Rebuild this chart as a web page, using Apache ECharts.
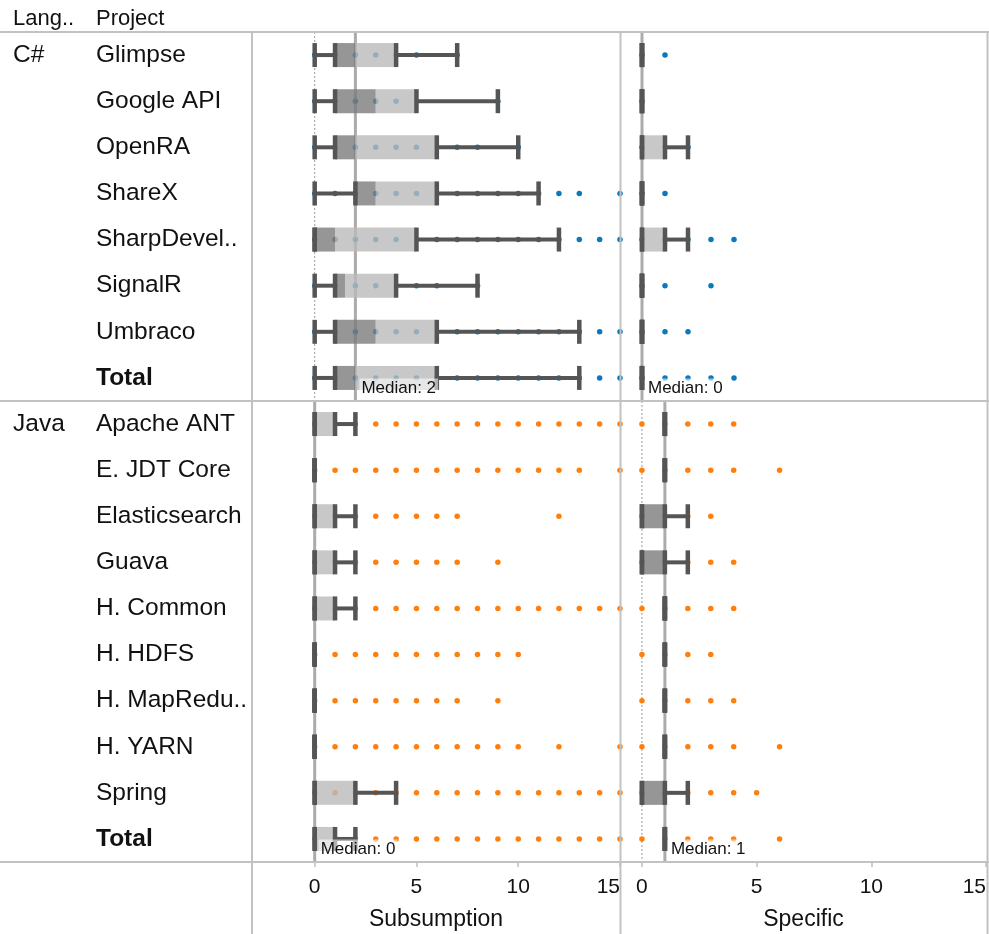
<!DOCTYPE html>
<html>
<head>
    <meta charset="utf-8">
    <title>Subsumption / Specific</title>
    <script src="https://cdn.jsdelivr.net/npm/echarts@6/dist/echarts.min.js"></script>
    <style>
        body { margin: 0; background: #fff; }
    </style>
</head>
<body>
<div id="main" style="width: 989px;height:934px;"></div>
<script type="text/javascript">
    // rows
    var csProjects = ['Glimpse', 'Google API', 'OpenRA', 'ShareX', 'SharpDevel..', 'SignalR', 'Umbraco', 'Total'];
    var javaProjects = ['Apache ANT', 'E. JDT Core', 'Elasticsearch', 'Guava', 'H. Common', 'H. HDFS',
        'H. MapRedu..', 'H. YARN', 'Spring', 'Total'];
    var tickValues = [0, 5, 10, 15];

    // box stats: [lower whisker, q1, median, q3, upper whisker]
    var csSubsBox = [[0, 1, 2, 4, 7], [0, 1, 3, 5, 9], [0, 1, 2, 6, 10], [0, 2, 3, 6, 11],
        [0, 0, 1, 5, 12], [0, 1, 1.5, 4, 8], [0, 1, 3, 6, 13], [0, 1, 2, 6, 13]];
    var csSpecBox = [[0, 0, 0, 0, 0], [0, 0, 0, 0, 0], [0, 0, 0, 1, 2], [0, 0, 0, 0, 0],
        [0, 0, 0, 1, 2], [0, 0, 0, 0, 0], [0, 0, 0, 0, 0], [0, 0, 0, 0, 0]];
    var javaSubsBox = [[0, 0, 0, 1, 2], [0, 0, 0, 0, 0], [0, 0, 0, 1, 2], [0, 0, 0, 1, 2], [0, 0, 0, 1, 2],
        [0, 0, 0, 0, 0], [0, 0, 0, 0, 0], [0, 0, 0, 0, 0], [0, 0, 0, 2, 4], [0, 0, 0, 1, 2]];
    var javaSpecBox = [[1, 1, 1, 1, 1], [1, 1, 1, 1, 1], [0, 0, 1, 1, 2], [0, 0, 1, 1, 2], [1, 1, 1, 1, 1],
        [1, 1, 1, 1, 1], [1, 1, 1, 1, 1], [1, 1, 1, 1, 1], [0, 0, 1, 1, 2], [1, 1, 1, 1, 1]];

    // distinct values shown as dots, per row
    var csSubsDots = [
        [0, 1, 2, 3, 4, 5, 7],
        [0, 1, 2, 3, 4, 9],
        [0, 1, 2, 3, 4, 5, 7, 8, 10],
        [0, 1, 2, 3, 4, 5, 7, 8, 9, 10, 11, 12, 13, 15],
        [0, 1, 2, 3, 4, 6, 7, 8, 9, 10, 11, 12, 13, 14, 15],
        [0, 1, 2, 3, 5, 6, 8],
        [0, 1, 2, 3, 4, 5, 7, 8, 9, 10, 11, 12, 13, 14, 15],
        [0, 1, 2, 3, 4, 5, 6, 7, 8, 9, 10, 11, 12, 13, 14, 15]
    ];
    var csSpecDots = [[0, 1], [0], [0, 1, 2], [0, 1], [0, 1, 2, 3, 4], [0, 1, 3], [0, 1, 2], [0, 1, 2, 3, 4]];
    var javaSubsDots = [
        [0, 1, 2, 3, 4, 5, 6, 7, 8, 9, 10, 11, 12, 13, 14, 15],
        [0, 1, 2, 3, 4, 5, 6, 7, 8, 9, 10, 11, 12, 13, 15],
        [0, 1, 2, 3, 4, 5, 6, 7, 12],
        [0, 1, 2, 3, 4, 5, 6, 7, 9],
        [0, 1, 2, 3, 4, 5, 6, 7, 8, 9, 10, 11, 12, 13, 14, 15],
        [0, 1, 2, 3, 4, 5, 6, 7, 8, 9, 10],
        [0, 1, 2, 3, 4, 5, 6, 7, 9],
        [0, 1, 2, 3, 4, 5, 6, 7, 8, 9, 10, 12, 15],
        [0, 1, 2, 3, 4, 5, 6, 7, 8, 9, 10, 11, 12, 13, 14, 15],
        [0, 1, 2, 3, 4, 5, 6, 7, 8, 9, 10, 11, 12, 13, 14, 15]
    ];
    var javaSpecDots = [[0, 1, 2, 3, 4], [0, 1, 2, 3, 4, 6], [0, 1, 2, 3], [0, 1, 2, 3, 4], [0, 1, 2, 3, 4],
        [0, 1, 2, 3], [0, 1, 2, 3, 4], [0, 1, 2, 3, 4, 6], [0, 1, 2, 3, 4, 5], [0, 1, 2, 3, 4, 6]];

    // median reference line per pane
    var csSubsMedian = 2;
    var csSpecMedian = 0;
    var javaSubsMedian = 0;
    var javaSpecMedian = 1;

    var FONT = '"Liberation Sans", Arial, Helvetica, sans-serif';
    var BLUE = '#0a78bd';
    var ORANGE = '#ff7f0e';

    var panes = [
        {projects: csProjects, box: csSubsBox, dots: csSubsDots, median: csSubsMedian, color: BLUE,
            grid: {left: 252, top: 32, width: 368, height: 369}, min: -3.08, max: 15, labels: true, name: ''},
        {projects: csProjects, box: csSpecBox, dots: csSpecDots, median: csSpecMedian, color: BLUE,
            grid: {left: 621, top: 32, width: 366, height: 369}, min: -0.913, max: 15, labels: false, name: ''},
        {projects: javaProjects, box: javaSubsBox, dots: javaSubsDots, median: javaSubsMedian, color: ORANGE,
            grid: {left: 252, top: 401, width: 368, height: 461}, min: -3.08, max: 15, labels: true, name: 'Subsumption'},
        {projects: javaProjects, box: javaSpecBox, dots: javaSpecDots, median: javaSpecMedian, color: ORANGE,
            grid: {left: 621, top: 401, width: 366, height: 461}, min: -0.913, max: 15, labels: false, name: 'Specific'}
    ];

    function renderBox(params, api) {
        var row = api.value(0);
        var vals = [1, 2, 3, 4, 5].map(function (d) { return api.coord([api.value(d), row])[0]; });
        var y = api.coord([0, row])[1];
        var h = 24, cw = 4.5;
        var kids = [];
        if (vals[1] > vals[0]) {
            kids.push({type: 'line', shape: {x1: vals[0], y1: y, x2: vals[1], y2: y},
                style: {stroke: '#555555', lineWidth: 4}});
        }
        if (vals[4] > vals[3]) {
            kids.push({type: 'line', shape: {x1: vals[3], y1: y, x2: vals[4], y2: y},
                style: {stroke: '#555555', lineWidth: 4}});
        }
        if (vals[2] > vals[1]) {
            kids.push({type: 'rect', shape: {x: vals[1], y: y - h / 2, width: vals[2] - vals[1], height: h},
                style: {fill: 'rgba(124,124,124,0.8)'}});
        }
        if (vals[3] > vals[2]) {
            kids.push({type: 'rect', shape: {x: vals[2], y: y - h / 2, width: vals[3] - vals[2], height: h},
                style: {fill: 'rgba(186,186,186,0.8)'}});
        }
        [vals[0], vals[1], vals[3], vals[4]].forEach(function (x) {
            kids.push({type: 'rect', shape: {x: x - cw / 2, y: y - h / 2, width: cw, height: h},
                style: {fill: '#555555'}});
        });
        return {type: 'group', children: kids};
    }

    function renderRefLine(params, api) {
        var cs = params.coordSys;
        var x0 = api.coord([0, 0])[0];
        var xm = api.coord([api.value(0), 0])[0];
        return {type: 'group', children: [
            {type: 'line', shape: {x1: x0, y1: cs.y, x2: x0, y2: cs.y + cs.height},
                style: {stroke: '#9a9a9a', lineWidth: 1, lineDash: [2, 2]}},
            {type: 'line', shape: {x1: xm, y1: cs.y, x2: xm, y2: cs.y + cs.height},
                style: {stroke: '#ababab', lineWidth: 3}}
        ]};
    }

    function renderRefLabel(params, api) {
        var cs = params.coordSys;
        var xm = api.coord([api.value(0), 0])[0];
        return {type: 'text', style: {
            text: 'Median: ' + api.value(0), x: xm + 4, y: cs.y + cs.height - 13,
            verticalAlign: 'middle', align: 'left', font: '17px ' + FONT, fill: '#111',
            backgroundColor: 'rgba(255,255,255,0.55)', padding: [1, 2]
        }};
    }

    var grids = [], xAxes = [], yAxes = [], series = [];
    panes.forEach(function (p, i) {
        grids.push(p.grid);
        var bottom = p.name !== '';
        xAxes.push({
            gridIndex: i, type: 'value', min: p.min, max: p.max,
            axisLine: {show: false},
            axisTick: {show: bottom, customValues: tickValues, length: 5, lineStyle: {color: '#c0c0c0', width: 1.5}},
            axisLabel: {show: bottom, customValues: tickValues, fontSize: 21, color: '#111', fontFamily: FONT,
                margin: 15, alignMaxLabel: 'right'},
            splitLine: {show: false},
            name: p.name, nameLocation: 'middle', nameGap: 46,
            nameTextStyle: {fontSize: 23, color: '#111', fontFamily: FONT}
        });
        yAxes.push({
            gridIndex: i, type: 'category', data: p.projects, inverse: true,
            axisLine: {show: false}, axisTick: {show: false}, splitLine: {show: false},
            axisLabel: {
                show: p.labels, align: 'left', margin: 156, fontSize: 24.5, color: '#111', fontFamily: FONT,
                formatter: function (v) { return v === 'Total' ? '{b|Total}' : v; },
                rich: {b: {fontWeight: 'bold', fontSize: 24.5, color: '#111', fontFamily: FONT}}
            }
        });
        series.push({
            type: 'custom', xAxisIndex: i, yAxisIndex: i, z: 1, silent: true,
            data: [[p.median, 0]], encode: {x: 0, y: 1}, renderItem: renderRefLine
        });
        var pts = [];
        p.dots.forEach(function (list, r) {
            list.forEach(function (v) { pts.push([v, r]); });
        });
        series.push({
            type: 'scatter', xAxisIndex: i, yAxisIndex: i, z: 2, silent: true,
            symbolSize: 5.5, itemStyle: {color: p.color, opacity: 1}, data: pts
        });
        series.push({
            type: 'custom', xAxisIndex: i, yAxisIndex: i, z: 3, silent: true,
            data: p.box.map(function (b, r) { return [r].concat(b); }),
            encode: {x: [1, 2, 3, 4, 5], y: 0}, renderItem: renderBox
        });
        series.push({
            type: 'custom', xAxisIndex: i, yAxisIndex: i, z: 4, silent: true,
            data: [[p.median, 0]], encode: {x: 0, y: 1}, renderItem: renderRefLabel
        });
    });

    var lineStyle = {stroke: '#c2c2c2', lineWidth: 2};
    var textFont = '24.5px ' + FONT;
    var graphic = [
        {type: 'line', z: 10, shape: {x1: 0, y1: 32, x2: 989, y2: 32}, style: lineStyle},
        {type: 'line', z: 10, shape: {x1: 0, y1: 401, x2: 989, y2: 401}, style: lineStyle},
        {type: 'line', z: 10, shape: {x1: 0, y1: 862, x2: 989, y2: 862}, style: lineStyle},
        {type: 'line', z: 10, shape: {x1: 252, y1: 32, x2: 252, y2: 934}, style: lineStyle},
        {type: 'line', z: 10, shape: {x1: 620.5, y1: 32, x2: 620.5, y2: 934}, style: lineStyle},
        {type: 'line', z: 10, shape: {x1: 987.5, y1: 32, x2: 987.5, y2: 934}, style: lineStyle},
        {type: 'text', z: 10, style: {text: 'Lang..', x: 13, y: 19, verticalAlign: 'middle', font: '22px ' + FONT, fill: '#111'}},
        {type: 'text', z: 10, style: {text: 'Project', x: 96, y: 19, verticalAlign: 'middle', font: '22px ' + FONT, fill: '#111'}},
        {type: 'text', z: 10, style: {text: 'C#', x: 13, y: 55, verticalAlign: 'middle', font: textFont, fill: '#111'}},
        {type: 'text', z: 10, style: {text: 'Java', x: 13, y: 424, verticalAlign: 'middle', font: textFont, fill: '#111'}}
    ];

    var myChart = echarts.init(document.getElementById('main'));
    myChart.setOption({
        animation: false,
        grid: grids,
        xAxis: xAxes,
        yAxis: yAxes,
        series: series,
        graphic: graphic
    });
</script>
</body>
</html>
